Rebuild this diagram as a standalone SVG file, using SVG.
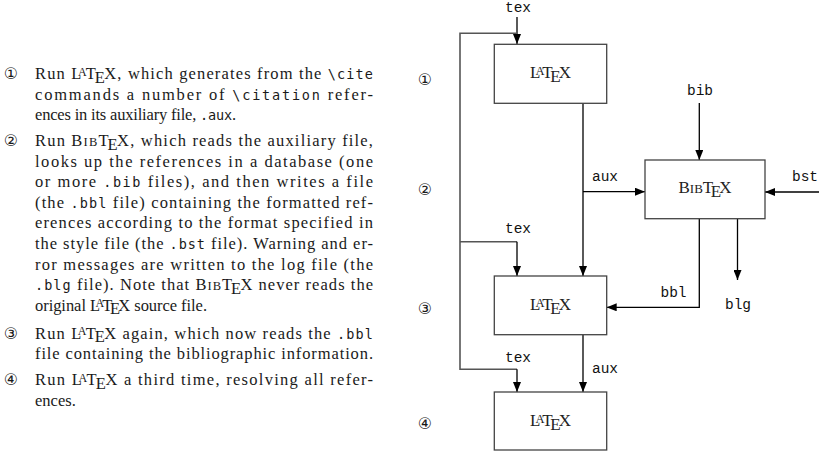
<svg xmlns="http://www.w3.org/2000/svg" width="819" height="451" viewBox="0 0 819 451">
<defs>
<marker id="ah" viewBox="0 0 10 8" refX="10" refY="4" markerWidth="10" markerHeight="8" markerUnits="userSpaceOnUse" orient="auto">
<path d="M0,0 L10,4 L0,8 Z" fill="#000"/>
</marker>
<style>
.body{font-family:"Liberation Serif","DejaVu Serif",serif;font-size:16.5px;fill:#1a1a1a}
.tt{font-family:"DejaVu Sans Mono","Liberation Mono",monospace;font-size:13.5px}
.num{font-family:"DejaVu Serif","DejaVu Sans",serif;font-size:16px;fill:#1a1a1a;text-anchor:middle}
.lbl{font-family:"Liberation Mono","DejaVu Sans Mono",monospace;font-size:14.5px;fill:#111;text-anchor:middle}
.logo{font-family:"Liberation Serif","DejaVu Serif",serif;font-size:17px;fill:#222;text-anchor:middle}
.box{fill:#fff;stroke:#444;stroke-width:1.3}
.ln{fill:none;stroke:#000;stroke-width:1.3}
.lp{fill:none;stroke:#555;stroke-width:1.6}
</style>
</defs>

<g id="description">
<text class="num" x="11" y="79">①</text>
<text class="body" x="35" y="79" textLength="338" lengthAdjust="spacing">Run L<tspan font-size="12" dx="-4.5" dy="-3.5">A</tspan><tspan dx="-2" dy="3.5">T</tspan><tspan dx="-2.2" dy="3.5">E</tspan><tspan dx="-1.7" dy="-3.5">X</tspan>, which generates from the <tspan class="tt">\cite</tspan></text>
<text class="body" x="35" y="99.6" textLength="338" lengthAdjust="spacing">commands a number of <tspan class="tt">\citation</tspan> refer-</text>
<text class="body" x="35" y="120.2" textLength="201" lengthAdjust="spacing">ences in its auxiliary file, <tspan class="tt">.aux</tspan>.</text>

<text class="num" x="11" y="146">②</text>
<text class="body" x="35" y="146" textLength="338" lengthAdjust="spacing">Run B<tspan font-size="12.5">IB</tspan>T<tspan dx="-2.2" dy="3.5">E</tspan><tspan dx="-1.7" dy="-3.5">X</tspan>, which reads the auxiliary file,</text>
<text class="body" x="35" y="166.6" textLength="338" lengthAdjust="spacing">looks up the references in a database (one</text>
<text class="body" x="35" y="187.2" textLength="338" lengthAdjust="spacing">or more <tspan class="tt">.bib</tspan> files), and then writes a file</text>
<text class="body" x="35" y="207.8" textLength="338" lengthAdjust="spacing">(the <tspan class="tt">.bbl</tspan> file) containing the formatted ref-</text>
<text class="body" x="35" y="228.4" textLength="338" lengthAdjust="spacing">erences according to the format specified in</text>
<text class="body" x="35" y="249" textLength="338" lengthAdjust="spacing">the style file (the <tspan class="tt">.bst</tspan> file). Warning and er-</text>
<text class="body" x="35" y="269.6" textLength="338" lengthAdjust="spacing">ror messages are written to the log file (the</text>
<text class="body" x="35" y="290.2" textLength="338" lengthAdjust="spacing"><tspan class="tt">.blg</tspan> file). Note that B<tspan font-size="12.5">IB</tspan>T<tspan dx="-2.2" dy="3.5">E</tspan><tspan dx="-1.7" dy="-3.5">X</tspan> never reads the</text>
<text class="body" x="35" y="310.8" textLength="172" lengthAdjust="spacing">original L<tspan font-size="12" dx="-4.5" dy="-3.5">A</tspan><tspan dx="-2" dy="3.5">T</tspan><tspan dx="-2.2" dy="3.5">E</tspan><tspan dx="-1.7" dy="-3.5">X</tspan> source file.</text>

<text class="num" x="11" y="338.5">③</text>
<text class="body" x="35" y="338.5" textLength="338" lengthAdjust="spacing">Run L<tspan font-size="12" dx="-4.5" dy="-3.5">A</tspan><tspan dx="-2" dy="3.5">T</tspan><tspan dx="-2.2" dy="3.5">E</tspan><tspan dx="-1.7" dy="-3.5">X</tspan> again, which now reads the <tspan class="tt">.bbl</tspan></text>
<text class="body" x="35" y="359" textLength="338" lengthAdjust="spacing">file containing the bibliographic information.</text>

<text class="num" x="11" y="385">④</text>
<text class="body" x="35" y="385" textLength="338" lengthAdjust="spacing">Run L<tspan font-size="12" dx="-4.5" dy="-3.5">A</tspan><tspan dx="-2" dy="3.5">T</tspan><tspan dx="-2.2" dy="3.5">E</tspan><tspan dx="-1.7" dy="-3.5">X</tspan> a third time, resolving all refer-</text>
<text class="body" x="35" y="405.5">ences.</text>
</g>

<g id="step-numbers">
<text class="num" x="425" y="85">①</text>
<text class="num" x="425" y="195">②</text>
<text class="num" x="425" y="314">③</text>
<text class="num" x="425" y="429">④</text>
</g>

<g id="connectors">
<path class="ln" d="M517,17 V44" marker-end="url(#ah)"/>
<path class="lp" d="M517,33.3 H460 V369.3 H517"/>
<path class="ln" d="M517,369.3 V392" marker-end="url(#ah)"/>
<path class="lp" d="M460,241.7 H517"/>
<path class="ln" d="M517,241.7 V276" marker-end="url(#ah)"/>
<path class="ln" d="M583,103.3 V276" marker-end="url(#ah)"/>
<path class="ln" d="M583,191.7 H645" marker-end="url(#ah)"/>
<path class="ln" d="M699.3,103 V160" marker-end="url(#ah)"/>
<path class="ln" d="M819,192 H765" marker-end="url(#ah)"/>
<path class="ln" d="M699.3,218.7 V307.3 H606.7" marker-end="url(#ah)"/>
<path class="ln" d="M737.5,218.7 V280" marker-end="url(#ah)"/>
<path class="ln" d="M583,334.7 V392" marker-end="url(#ah)"/>
<text class="lbl" x="518" y="11.5">tex</text>
<text class="lbl" x="700" y="95">bib</text>
<text class="lbl" x="605" y="180.7">aux</text>
<text class="lbl" x="805" y="181">bst</text>
<text class="lbl" x="518" y="233.3">tex</text>
<text class="lbl" x="673.5" y="296.7">bbl</text>
<text class="lbl" x="738" y="309.4">blg</text>
<text class="lbl" x="518" y="361.7">tex</text>
<text class="lbl" x="605" y="373.3">aux</text>
</g>

<g id="latex1">
<rect class="box" x="494.3" y="44.3" width="112.4" height="59"/>
<text class="logo" x="550.5" y="78.3">L<tspan font-size="12.5" dx="-5" dy="-3.5">A</tspan><tspan dx="-2.2" dy="3.5">T</tspan><tspan dx="-2.5" dy="3.5">E</tspan><tspan dx="-1.9" dy="-3.5">X</tspan></text>
</g>
<g id="bibtex">
<rect class="box" x="645" y="160" width="120" height="58.7"/>
<text class="logo" x="705" y="193.3">B<tspan font-size="13">IB</tspan>T<tspan dx="-2.5" dy="3.5">E</tspan><tspan dx="-1.9" dy="-3.5">X</tspan></text>
</g>
<g id="latex2">
<rect class="box" x="494.3" y="276" width="112.4" height="58.7"/>
<text class="logo" x="550.5" y="310">L<tspan font-size="12.5" dx="-5" dy="-3.5">A</tspan><tspan dx="-2.2" dy="3.5">T</tspan><tspan dx="-2.5" dy="3.5">E</tspan><tspan dx="-1.9" dy="-3.5">X</tspan></text>
</g>
<g id="latex3">
<rect class="box" x="494.3" y="392" width="112.4" height="58"/>
<text class="logo" x="550.5" y="426">L<tspan font-size="12.5" dx="-5" dy="-3.5">A</tspan><tspan dx="-2.2" dy="3.5">T</tspan><tspan dx="-2.5" dy="3.5">E</tspan><tspan dx="-1.9" dy="-3.5">X</tspan></text>
</g>
</svg>
